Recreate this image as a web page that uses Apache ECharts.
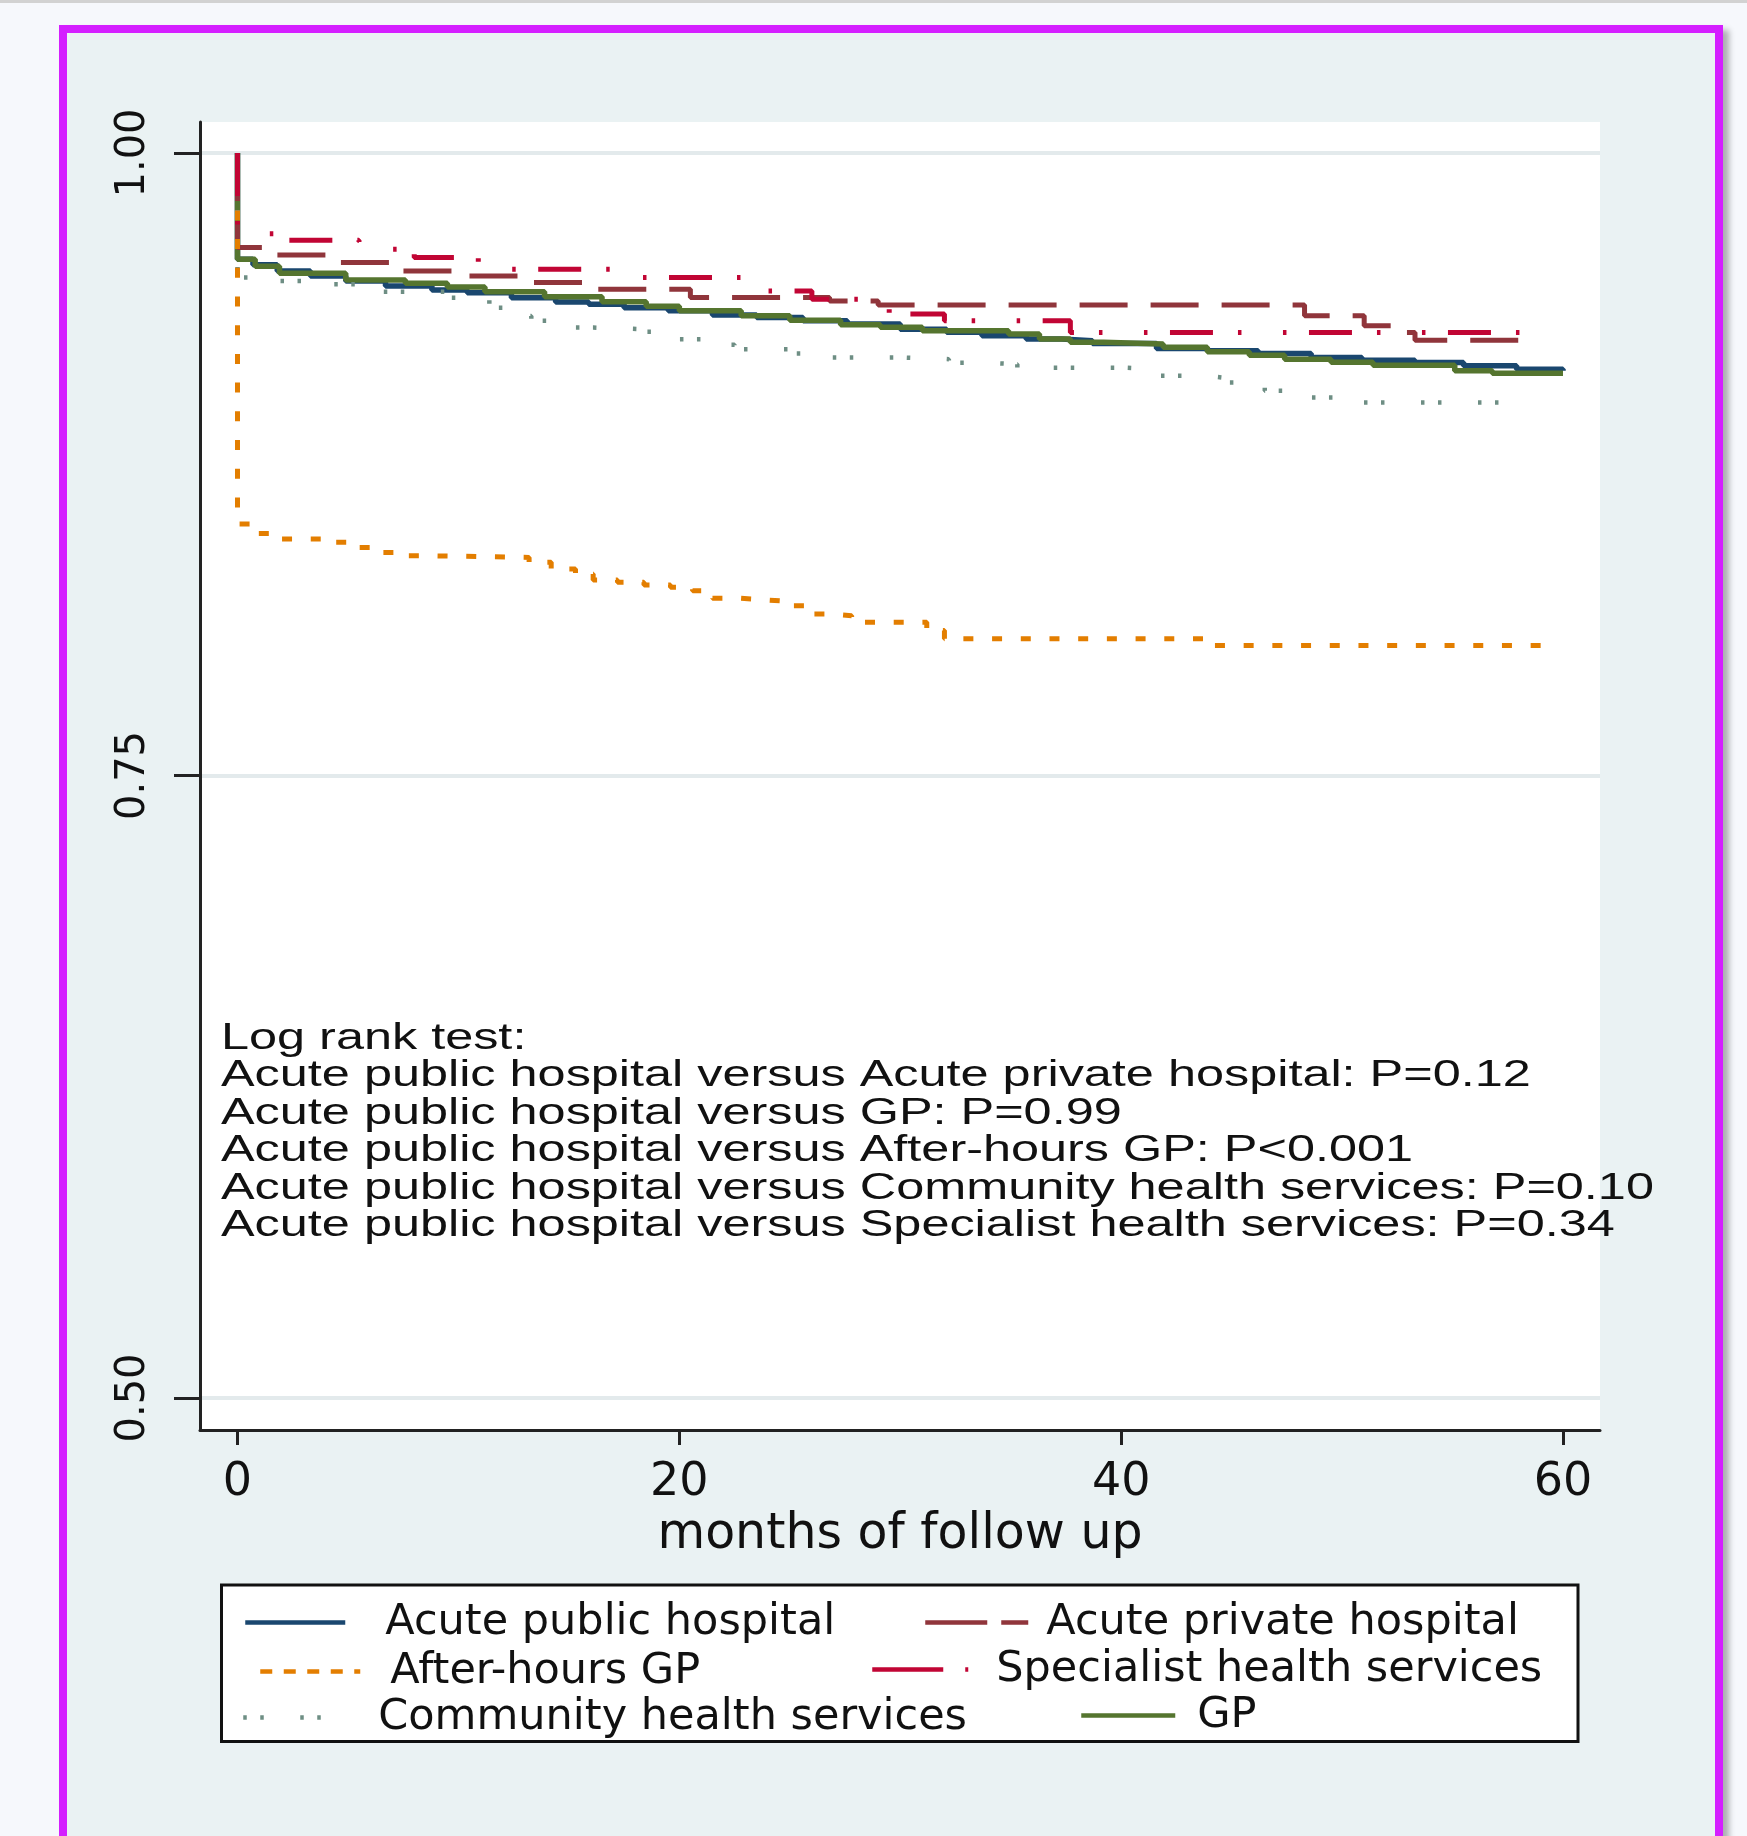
<!DOCTYPE html>
<html>
<head>
<meta charset="utf-8">
<script src="https://cdn.jsdelivr.net/npm/echarts@6/dist/echarts.min.js"></script>
<style>
  html, body { margin: 0; padding: 0; background: #f6f8fc; width: 1747px; height: 1836px; overflow: hidden; }
  #topbar { position: absolute; left: 0; top: 0; width: 1747px; height: 3px; background: #d2d2d2; }
  #frame { position: absolute; left: 59px; top: 25px; width: 1664px; height: 1900px; box-sizing: border-box;
           border: 8px solid #d41fff; border-bottom: none; background: #eaf2f3;
           box-shadow: 6px 5px 6px rgba(0,0,0,0.30); }
  #chart { position: absolute; left: 0; top: 0; width: 1747px; height: 1836px; }
</style>
</head>
<body>
<div id="topbar"></div>
<div id="frame"></div>
<div id="chart"></div>
<script>
// ---------------- DATA ----------------
const xTicks = [0, 20, 40, 60];
const yTicks = [0.50, 0.75, 1.00];

const seriesNames = ['Acute public hospital', 'Acute private hospital', 'After-hours GP',
                     'Specialist health services', 'Community health services', 'GP'];

// Acute public hospital (months, survival)
const publicT = [0, 0, 0.7, 1.8, 3.3, 4.9, 6.7, 8.8, 10.4, 12.4, 14.4, 15.9, 17.5, 19.5, 21.5, 23.5, 25.6, 27.6, 30.0, 32.1, 33.7, 35.7, 37.3, 38.7, 41.6, 43.9, 46.2, 48.6, 50.9, 53.3, 55.5, 57.9, 60.0];
const publicS = [1.0, 0.9573, 0.9551, 0.9526, 0.9506, 0.9486, 0.9466, 0.945, 0.9439, 0.9419, 0.9402, 0.9393, 0.9379, 0.9366, 0.9349, 0.9339, 0.9326, 0.9313, 0.9292, 0.928, 0.9266, 0.9253, 0.9246, 0.9235, 0.9215, 0.9206, 0.9195, 0.9179, 0.9168, 0.9159, 0.9146, 0.9132, 0.9126];

// GP
const gpT = [0, 0, 0.8, 1.9, 4.9, 7.6, 9.5, 11.2, 13.9, 16.5, 18.5, 20.0, 22.8, 25.0, 27.3, 29.1, 31.0, 34.9, 36.3, 37.7, 39.2, 41.9, 43.9, 45.8, 47.4, 49.5, 51.4, 55.1, 56.8, 60.0];
const gpS = [1.0, 0.9573, 0.9545, 0.9517, 0.949, 0.9477, 0.9462, 0.9443, 0.9423, 0.9403, 0.9385, 0.9366, 0.9346, 0.9328, 0.931, 0.93, 0.9286, 0.9273, 0.9253, 0.924, 0.9233, 0.922, 0.9202, 0.9188, 0.9172, 0.916, 0.9148, 0.9126, 0.9115, 0.9115];

// Community health services
const communityT = [0, 0, 1.8, 3.3, 5.4, 9.4, 11.4, 12.5, 13.3, 14.6, 16.1, 18.5, 20.0, 21.5, 22.5, 25.0, 26.4, 30.0, 32.2, 33.8, 35.3, 40.1, 41.5, 43.9, 44.6, 46.5, 48.0, 50.2, 58.3];
const communityS = [1.0, 0.95, 0.9486, 0.9473, 0.9443, 0.9419, 0.9379, 0.9345, 0.9326, 0.9299, 0.9292, 0.9282, 0.9252, 0.923, 0.9212, 0.9195, 0.9179, 0.9172, 0.9158, 0.9152, 0.9138, 0.9132, 0.9105, 0.9098, 0.9078, 0.9045, 0.9018, 0.8998, 0.8998];

// Acute private hospital
const privateT = [0, 0, 1.8, 4.3, 7.1, 10.4, 12.8, 16.0, 20.5, 26.8, 29.0, 48.3, 51.0, 52.7, 53.3, 58.6];
const privateS = [1.0, 0.962, 0.959, 0.956, 0.9526, 0.9506, 0.948, 0.9453, 0.942, 0.9406, 0.939, 0.9346, 0.9306, 0.9279, 0.9248, 0.9248];

// After-hours GP
const afterT = [0, 0, 0.8, 1.9, 4.2, 5.1, 6.2, 7.2, 8.3, 13.2, 14.2, 15.3, 16.1, 17.2, 18.4, 19.6, 20.6, 21.5, 22.7, 23.9, 24.8, 25.7, 26.9, 27.8, 31.2, 32.0, 44.0, 59.8];
const afterS = [1.0, 0.851, 0.8472, 0.845, 0.8437, 0.8416, 0.8396, 0.8383, 0.8376, 0.8356, 0.8329, 0.8309, 0.8285, 0.8276, 0.8265, 0.8256, 0.8242, 0.8212, 0.8205, 0.82, 0.8182, 0.8149, 0.8142, 0.8115, 0.8082, 0.8049, 0.8022, 0.8022];

// Specialist health services
const specialistT = [0, 0, 2.0, 5.5, 8.0, 10.9, 16.9, 23.3, 26.0, 29.5, 32.0, 37.7, 59.7];
const specialistS = [1.0, 0.9676, 0.965, 0.9613, 0.958, 0.9533, 0.95, 0.9446, 0.9413, 0.9353, 0.9326, 0.9279, 0.9279];

const annotationLines = [
  'Log rank test:',
  'Acute public hospital versus Acute private hospital: P=0.12',
  'Acute public hospital versus GP: P=0.99',
  'Acute public hospital versus After-hours GP: P<0.001',
  'Acute public hospital versus Community health services: P=0.10',
  'Acute public hospital versus Specialist health services: P=0.34'
];

// ---------------- CHART ----------------
function pairs(t, s) { return t.map((v, i) => [v, s[i]]); }

const FONT = 'DejaVu Sans';
const TXT = '#111';

function km(name, t, s, color, width, type, z) {
  return {
    name: name, type: 'line', step: 'end', data: pairs(t, s),
    symbol: 'none', showSymbol: false, z: z,
    lineStyle: { color: color, width: width, type: type, cap: 'butt' },
    itemStyle: { color: color },
    emphasis: { disabled: true }, silent: true
  };
}

function leg(name, left, centerY, itemWidth, pad, lineType) {
  const o = {
    data: [name], left: left, top: centerY - 21, padding: 0, orient: 'horizontal',
    itemWidth: itemWidth, itemHeight: 42, selectedMode: false,
    itemStyle: { opacity: 0 },
    lineStyle: { width: 4.5 },
    textStyle: { fontFamily: FONT, fontSize: 43, color: TXT, padding: [0, 0, 0, pad] }
  };
  if (lineType) o.lineStyle.type = lineType;
  return o;
}

const graphics = [
  { type: 'rect', z: 1, shape: { x: 221.5, y: 1585, width: 1356.5, height: 156.5 },
    style: { fill: '#ffffff', stroke: '#111', lineWidth: 3 } }
];
annotationLines.forEach((line, i) => {
  graphics.push({
    type: 'text', z: 100, x: 221, y: 1039 + 37.5 * i, scaleX: 1.4,
    style: { text: line, fontSize: 36, fontFamily: 'Liberation Sans', fill: TXT,
             align: 'left', verticalAlign: 'middle' }
  });
});

const option = {
  animation: false,
  backgroundColor: 'transparent',
  grid: { left: 200, right: 147, top: 122, bottom: 406, show: true,
          backgroundColor: '#ffffff', borderWidth: 0, containLabel: false },
  xAxis: {
    type: 'value', min: -1.697, max: 61.674,
    axisLine: { show: true, onZero: false, lineStyle: { color: '#222', width: 3 } },
    axisTick: { show: true, length: 15, customValues: xTicks, lineStyle: { color: '#222', width: 3 } },
    axisLabel: { show: true, customValues: xTicks, margin: 30, fontFamily: FONT, fontSize: 46, color: TXT },
    splitLine: { show: false },
    name: 'months of follow up', nameLocation: 'middle', nameGap: 76,
    nameTextStyle: { fontFamily: FONT, fontSize: 49, color: TXT }
  },
  yAxis: {
    type: 'value', min: 0.48715, max: 1.01245,
    axisLine: { show: true, onZero: false, lineStyle: { color: '#222', width: 3 } },
    axisTick: { show: true, length: 26, customValues: yTicks, lineStyle: { color: '#222', width: 3 } },
    axisLabel: { show: true, customValues: yTicks, rotate: 90, margin: 46, fontFamily: FONT, fontSize: 40, color: TXT,
                 formatter: v => Number(v).toFixed(2) },
    splitLine: { show: true, lineStyle: { color: '#e3eaec', width: 4 } }
  },
  legend: [
    leg(seriesNames[0], 243, 1622, 100, 35, null),
    leg(seriesNames[2], 258, 1671, 100, 25, [12, 11.5]),
    leg(seriesNames[4], 241, 1717, 100, 30, null),
    leg(seriesNames[1], 923, 1622, 103, 13, [62, 14]),
    leg(seriesNames[3], 870, 1669, 96, 23, [71, 22, 3, 100]),
    leg(seriesNames[5], 1079, 1715, 94, 17, null)
  ],
  graphic: graphics,
  series: [
    km(seriesNames[0], publicT, publicS, '#1a476f', 5.5, 'solid', 2),
    km(seriesNames[5], gpT, gpS, '#55752f', 5.5, 'solid', 3),
    km(seriesNames[4], communityT, communityS, '#6e8e84', 4.5, [3.5, 13.5, 3.5, 36.5], 4),
    km(seriesNames[1], privateT, privateS, '#90353b', 5, [48, 23], 5),
    km(seriesNames[2], afterT, afterS, '#e37e00', 5, [10, 18.7], 6),
    km(seriesNames[3], specialistT, specialistS, '#c10534', 5, [43, 25, 3.5, 41.5, 3.5, 22.5], 7)
  ]
};

const chart = echarts.init(document.getElementById('chart'), null, { renderer: 'canvas', width: 1747, height: 1836 });
chart.setOption(option);
</script>
</body>
</html>
